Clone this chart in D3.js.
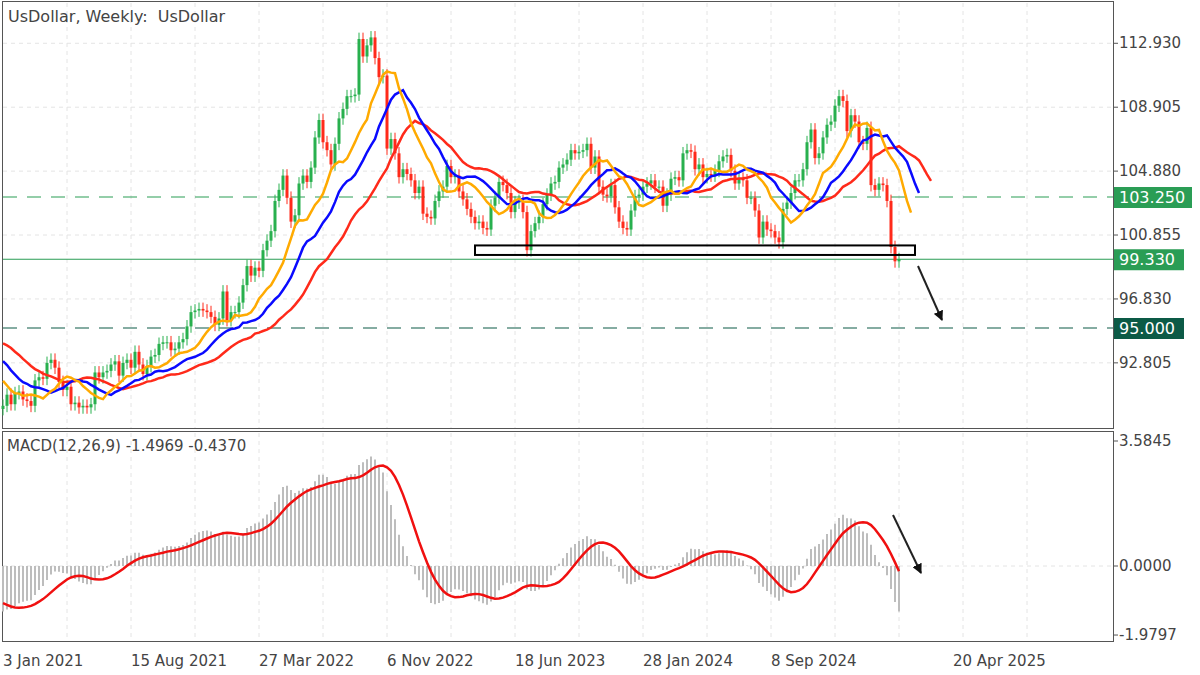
<!DOCTYPE html>
<html><head><meta charset="utf-8">
<script src="https://cdn.jsdelivr.net/npm/d3@7"></script>
<style>body{margin:0;background:#fff}svg{display:block}text{font-family:"DejaVu Sans",sans-serif;white-space:pre}</style>
</head><body><svg id="c" width="1200" height="675"></svg>
<script>
// weekly closes, Jun 2020 - Dec 2020 (warm-up for averages, not drawn)
const warmupCloses=[96.7,97.6,97.4,97.2,96.6,96.0,94.4,93.3,93.4,93.1,93.2,92.4,92.7,93.3,93.0,94.6,93.8,93.6,93.7,92.8,94.0,92.2,92.7,92.4,91.8,90.7,90.9,90.0,90.2,89.9];
const closes2021=[90.1,90.8,90.2,90.9,91.0,90.5,90.4,90.1,91.7,91.9,91.8,92.8,93.0,92.5,91.6,91.1,91.3,90.2,90.3,90.0,90.1,90.0,90.2,92.2,91.9,92.2,92.3,92.7,92.9,92.0,92.8,93.0,92.5,93.5,92.7,92.1,92.6,93.2,93.3,94.0,94.1,94.1,93.6,93.7,94.1,94.3,95.1,96.0,96.1,96.2,96.1,96.0];
const closes2022=[95.7,95.2,95.6,97.3,95.5,96.0,96.0,96.6,97.7,98.9,98.3,98.8,98.6,99.9,100.5,101.1,103.0,103.7,104.6,103.2,101.7,102.1,104.1,104.6,104.2,105.1,107.0,108.1,106.7,106.2,105.3,106.6,108.2,108.8,109.6,109.6,109.7,113.2,112.1,112.8,113.3,112.0,110.8,110.9,106.3,106.9,106.0,104.5,105.0,104.7,104.3,103.5];
const closes2023=[103.9,102.2,102.0,101.9,103.0,103.6,103.9,105.2,104.5,104.6,103.6,103.1,102.5,102.0,101.6,101.7,101.3,101.2,102.7,103.2,104.2,104.0,103.5,102.3,102.9,103.0,102.3,99.9,101.1,101.6,102.0,102.8,103.4,104.1,104.2,105.1,105.3,105.6,106.2,106.0,106.1,106.2,106.6,105.1,105.8,103.9,103.4,103.3,104.0,102.6,101.7,101.3,101.2];
const closes2024=[102.4,103.3,103.4,103.9,104.1,104.3,103.9,103.9,102.7,103.4,104.4,104.5,104.3,106.0,106.2,106.1,105.0,105.3,104.5,104.7,104.6,104.9,105.5,105.8,105.9,104.9,104.1,104.4,104.3,103.2,103.2,102.4,100.7,101.7,101.2,101.1,100.7,100.4,102.5,102.9,103.5,104.3,104.3,105.0,106.7,107.5,105.7,106.0,107.0,107.8,108.0,109.0];
const closes2025=[109.6,109.3,107.4,108.4,108.0,106.7,106.6,107.6,104.0,103.7,104.1,104.0,103.0,100.1,99.2,99.33];
const priceTicks=[112.930,108.905,104.880,100.855,96.830,92.805];
const macdTicks=[3.5845,0.0000,-1.9797];
const dateTicks=[{w:0,t:"3 Jan 2021"},{w:32,t:"15 Aug 2021"},{w:64,t:"27 Mar 2022"},{w:96,t:"6 Nov 2022"},{w:128,t:"18 Jun 2023"},{w:160,t:"28 Jan 2024"},{w:192,t:"8 Sep 2024"}];
const lastDateLabel="20 Apr 2025";
const levels=[{v:103.25,c:"#2a9d55",dash:"14,10",tag:"103.250"},{v:99.33,c:"#2a9d55",dash:null,tag:"99.330"},{v:95.0,c:"#0c5a46",dash:"14,10",tag:"95.000"}];
const zone={w0:118,w1:228,lo:99.6,hi:100.2};
// smoothed averages with forward shift (period, shift)
const maPeriods=[{n:13,s:8,c:"#ff2a1a"},{n:8,s:5,c:"#0a0aff"},{n:5,s:3,c:"#ffaa00"}];

const all=warmupCloses.concat(closes2021,closes2022,closes2023,closes2024,closes2025);
const W0=warmupCloses.length;
const N=all.length-W0;
const svg=d3.select("#c");
const x=d3.scaleLinear().domain([0,224]).range([3,899]);
const y=d3.scaleLinear().domain([95,103.25]).range([328,197]);
const ym=d3.scaleLinear().domain([0,3.5845]).range([566,441]);
const plotR=1113;

svg.append("rect").attr("x",2.5).attr("y",1.5).attr("width",plotR-2).attr("height",427).attr("fill","none").attr("stroke","#555");
svg.append("rect").attr("x",2.5).attr("y",431.5).attr("width",plotR-2).attr("height",210).attr("fill","none").attr("stroke","#555");
for(let w=16;w<260;w+=16){const gx=x(w);if(gx>=plotR)break;
 [[3,428],[433,641]].forEach(r=>svg.append("line").attr("x1",gx).attr("x2",gx).attr("y1",r[0]).attr("y2",r[1]).attr("stroke","#e4e4e4").attr("stroke-dasharray","4,4"));}
const gp=svg.append("g");
priceTicks.forEach(p=>{gp.append("line").attr("x1",3).attr("x2",plotR).attr("y1",y(p)).attr("y2",y(p)).attr("stroke","#e4e4e4").attr("stroke-dasharray","4,4");
 gp.append("line").attr("x1",plotR).attr("x2",plotR+5).attr("y1",y(p)).attr("y2",y(p)).attr("stroke","#555");
 gp.append("text").attr("x",1119).attr("y",y(p)+5).attr("font-size",15).attr("fill","#444").text(p.toFixed(3));});
macdTicks.forEach(v=>{if(v===0)gp.append("line").attr("x1",3).attr("x2",plotR).attr("y1",ym(v)).attr("y2",ym(v)).attr("stroke","#e4e4e4").attr("stroke-dasharray","4,4");
 gp.append("line").attr("x1",plotR).attr("x2",plotR+5).attr("y1",ym(v)).attr("y2",ym(v)).attr("stroke","#555");
 gp.append("text").attr("x",1119).attr("y",ym(v)+5).attr("font-size",15).attr("fill","#444").text(v.toFixed(4));});
dateTicks.forEach(d=>svg.append("text").attr("x",x(d.w)).attr("y",666).attr("font-size",15).attr("fill","#444").text(d.t));
svg.append("text").attr("x",953).attr("y",666).attr("font-size",15).attr("fill","#444").text(lastDateLabel);

levels.forEach(l=>{const ln=svg.append("line").attr("x1",3).attr("x2",plotR).attr("y1",y(l.v)).attr("y2",y(l.v)).attr("stroke",l.c).attr("stroke-width",1.2);
 if(l.dash)ln.attr("stroke-dasharray",l.dash);
 svg.append("rect").attr("x",1114).attr("y",y(l.v)-10).attr("width",l.tag.length>6?78:70).attr("height",21).attr("fill",l.c);
 svg.append("text").attr("x",1119).attr("y",y(l.v)+6).attr("font-size",16).attr("fill","#fff").text(l.tag);});

const cg=svg.append("g");
for(let i=0;i<N;i++){const c=all[W0+i],o=all[W0+i-1];const up=c>=o;const col=up?"#28b04e":"#ff2a1a";const cx=x(i);
 cg.append("line").attr("x1",cx).attr("x2",cx).attr("y1",y(Math.max(o,c)+0.4)).attr("y2",y(Math.min(o,c)-0.4)).attr("stroke",col).attr("stroke-width",1);
 cg.append("rect").attr("x",cx-1.5).attr("width",3).attr("y",y(Math.max(o,c))).attr("height",Math.max(1,y(Math.min(o,c))-y(Math.max(o,c)))).attr("fill",col);}
function smma(n){const out=[];let s=0;for(let i=0;i<all.length;i++){if(i<n){s+=all[i];out.push(s/(i+1));}else out.push((out[i-1]*(n-1)+all[i])/n);}return out;}
maPeriods.forEach(m=>{const v=smma(m.n);const pts=d3.range(-m.s,N).map(i=>[x(i+m.s),y(v[W0+i])]);
 svg.append("path").attr("d",d3.line()(pts)).attr("fill","none").attr("stroke",m.c).attr("stroke-width",2.5);});

svg.append("rect").attr("x",x(zone.w0)).attr("y",y(zone.hi)).attr("width",x(zone.w1)-x(zone.w0)).attr("height",y(zone.lo)-y(zone.hi)).attr("fill","none").attr("stroke","#000").attr("stroke-width",2);
svg.append("defs").append("marker").attr("id","ah").attr("viewBox","0 0 10 10").attr("refX",9).attr("refY",5).attr("markerWidth",5).attr("markerHeight",5).attr("orient","auto").append("path").attr("d","M0,0L10,5L0,10z").attr("fill","#111");
svg.append("line").attr("x1",918).attr("y1",266).attr("x2",942).attr("y2",320).attr("stroke","#222").attr("stroke-width",2).attr("marker-end","url(#ah)");
svg.append("line").attr("x1",893).attr("y1",515).attr("x2",921).attr("y2",573).attr("stroke","#222").attr("stroke-width",2).attr("marker-end","url(#ah)");

function ema(n){const k=2/(n+1);const out=[all[0]];for(let i=1;i<all.length;i++)out.push(all[i]*k+out[i-1]*(1-k));return out;}
const e12=ema(12),e26=ema(26);const macd=all.map((v,i)=>e12[i]-e26[i]);
const sig=macd.map((v,i)=>{if(i<8)return v;let s=0;for(let k=i-8;k<=i;k++)s+=macd[k];return s/9;});
for(let i=0;i<N;i++){const v=macd[W0+i];svg.append("line").attr("x1",x(i)).attr("x2",x(i)).attr("y1",ym(0)).attr("y2",ym(v)).attr("stroke","#bdbdbd").attr("stroke-width",2);}
svg.append("path").attr("d",d3.line()(d3.range(N).map(i=>[x(i),ym(sig[W0+i])]))).attr("fill","none").attr("stroke","#f01010").attr("stroke-width",2.5);

svg.append("text").attr("x",8).attr("y",22).attr("font-size",16).attr("fill","#444").text("UsDollar, Weekly:  UsDollar");
svg.append("text").attr("x",7).attr("y",451).attr("font-size",15).attr("fill","#444").text("MACD(12,26,9) -1.4969 -0.4370");
</script></body></html>
